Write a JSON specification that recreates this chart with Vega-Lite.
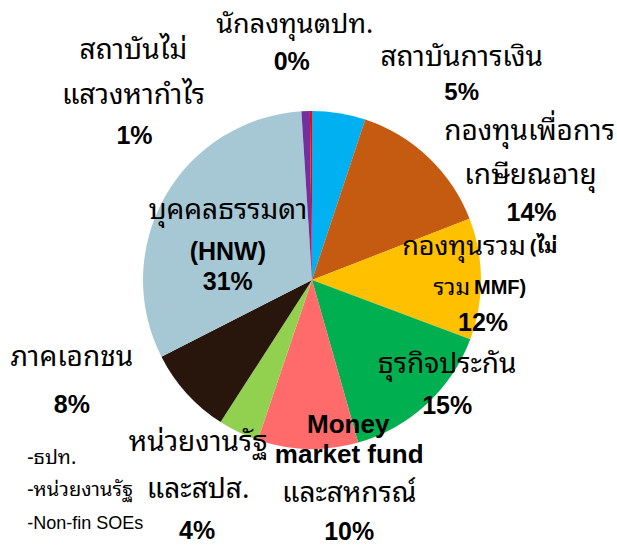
{
  "$schema": "https://vega.github.io/schema/vega-lite/v6.json",
  "width": 610,
  "height": 532,
  "autosize": "none",
  "padding": {"left": 7, "top": 14, "right": 0, "bottom": 0},
  "background": "white",
  "data": {"values": [
    {"cat": "สถาบันการเงิน", "order": 1, "value": 5.1, "l1": "สถาบันการเงิน", "pct": "5%"},
    {"cat": "กองทุนเพื่อการเกษียณอายุ", "order": 2, "value": 14.0, "l1": "กองทุนเพื่อการ", "l2": "เกษียณอายุ", "pct": "14%"},
    {"cat": "กองทุนรวม (ไม่รวม MMF)", "order": 3, "value": 11.6, "l1": "กองทุนรวม", "l1b": "(ไม่", "l2": "รวม", "l2b": "MMF)", "pct": "12%"},
    {"cat": "ธุรกิจประกัน", "order": 4, "value": 14.9, "l1": "ธุรกิจประกัน", "pct": "15%"},
    {"cat": "Money market fund และสหกรณ์", "order": 5, "value": 9.6, "l1": "Money", "l2": "market fund", "l3": "และสหกรณ์", "pct": "10%"},
    {"cat": "หน่วยงานรัฐและสปส.", "order": 6, "value": 3.9, "l1": "หน่วยงานรัฐ", "l2": "และสปส.", "pct": "4%", "n1": "-ธปท.", "n2": "-หน่วยงานรัฐ", "n3": "-Non-fin SOEs"},
    {"cat": "ภาคเอกชน", "order": 7, "value": 8.4, "l1": "ภาคเอกชน", "pct": "8%"},
    {"cat": "บุคคลธรรมดา (HNW)", "order": 8, "value": 31.5, "l1": "บุคคลธรรมดา", "l2": "(HNW)", "pct": "31%"},
    {"cat": "สถาบันไม่แสวงหากำไร", "order": 9, "value": 0.8, "l1": "สถาบันไม่", "l2": "แสวงหากำไร", "pct": "1%"},
    {"cat": "นักลงทุนตปท.", "order": 10, "value": 0.2, "l1": "นักลงทุนตปท.", "pct": "0%"}
  ]},
  "encoding": {
    "theta": {"field": "value", "type": "quantitative", "stack": true},
    "order": {"field": "order", "type": "quantitative", "sort": "ascending"}
  },
  "layer": [
    {"mark": {"type": "arc", "outerRadius": 169},
     "encoding": {"color": {"field": "cat", "type": "nominal", "legend": null,
       "scale": {"domain": ["สถาบันการเงิน", "กองทุนเพื่อการเกษียณอายุ", "กองทุนรวม (ไม่รวม MMF)", "ธุรกิจประกัน", "Money market fund และสหกรณ์", "หน่วยงานรัฐและสปส.", "ภาคเอกชน", "บุคคลธรรมดา (HNW)", "สถาบันไม่แสวงหากำไร", "นักลงทุนตปท."],
                 "range": ["#00B0F0", "#C55A11", "#FFC000", "#00B050", "#FF6B6B", "#92D050", "#28150B", "#A6C8D4", "#7030A0", "#FF0000"]}}}},

    {"mark": {"type": "text", "radius": 200, "dx": -16, "dy": -55, "fontSize": 27}, "encoding": {"text": {"condition": {"test": "datum.order===10", "field": "l1", "type": "nominal"}, "value": ""}}},
    {"mark": {"type": "text", "radius": 200, "dx": -19, "dy": -18, "fontWeight": "bold", "font": "Liberation Sans", "fontSize": 25}, "encoding": {"text": {"condition": {"test": "datum.order===10", "field": "pct", "type": "nominal"}, "value": ""}}},

    {"mark": {"type": "text", "radius": 230, "dx": 113, "dy": 5}, "encoding": {"text": {"condition": {"test": "datum.order===1", "field": "l1", "type": "nominal"}, "value": ""}}},
    {"mark": {"type": "text", "radius": 230, "dx": 113, "dy": 40, "fontWeight": "bold", "font": "Liberation Sans", "fontSize": 24}, "encoding": {"text": {"condition": {"test": "datum.order===1", "field": "pct", "type": "nominal"}, "value": ""}}},

    {"mark": {"type": "text", "radius": 230, "dx": 59, "dy": 19}, "encoding": {"text": {"condition": {"test": "datum.order===2", "field": "l1", "type": "nominal"}, "value": ""}}},
    {"mark": {"type": "text", "radius": 230, "dx": 60, "dy": 63}, "encoding": {"text": {"condition": {"test": "datum.order===2", "field": "l2", "type": "nominal"}, "value": ""}}},
    {"mark": {"type": "text", "radius": 230, "dx": 61, "dy": 100, "fontWeight": "bold", "font": "Liberation Sans", "fontSize": 25}, "encoding": {"text": {"condition": {"test": "datum.order===2", "field": "pct", "type": "nominal"}, "value": ""}}},

    {"mark": {"type": "text", "radius": 170, "dx": 44, "dy": -32, "align": "right", "fontSize": 27}, "encoding": {"text": {"condition": {"test": "datum.order===3", "field": "l1", "type": "nominal"}, "value": ""}}},
    {"mark": {"type": "text", "radius": 170, "dx": 48, "dy": -32, "align": "left", "fontSize": 20, "fontWeight": "bold"}, "encoding": {"text": {"condition": {"test": "datum.order===3", "field": "l1b", "type": "nominal"}, "value": ""}}},
    {"mark": {"type": "text", "radius": 170, "dx": -12, "dy": 9, "align": "right", "fontSize": 23}, "encoding": {"text": {"condition": {"test": "datum.order===3", "field": "l2", "type": "nominal"}, "value": ""}}},
    {"mark": {"type": "text", "radius": 170, "dx": -8, "dy": 9, "align": "left", "fontSize": 20, "fontWeight": "bold", "font": "Liberation Sans"}, "encoding": {"text": {"condition": {"test": "datum.order===3", "field": "l2b", "type": "nominal"}, "value": ""}}},
    {"mark": {"type": "text", "radius": 170, "dx": 1, "dy": 44, "fontWeight": "bold", "font": "Liberation Sans", "fontSize": 25}, "encoding": {"text": {"condition": {"test": "datum.order===3", "field": "pct", "type": "nominal"}, "value": ""}}},

    {"mark": {"type": "text", "radius": 170, "dx": 20, "dy": -40}, "encoding": {"text": {"condition": {"test": "datum.order===4", "field": "l1", "type": "nominal"}, "value": ""}}},
    {"mark": {"type": "text", "radius": 170, "dx": 20, "dy": 1, "fontWeight": "bold", "font": "Liberation Sans", "fontSize": 25}, "encoding": {"text": {"condition": {"test": "datum.order===4", "field": "pct", "type": "nominal"}, "value": ""}}},

    {"mark": {"type": "text", "radius": 190, "dx": 41, "dy": -45, "fontWeight": "bold", "font": "Liberation Sans", "fontSize": 26}, "encoding": {"text": {"condition": {"test": "datum.order===5", "field": "l1", "type": "nominal"}, "value": ""}}},
    {"mark": {"type": "text", "radius": 190, "dx": 42, "dy": -15, "fontWeight": "bold", "font": "Liberation Sans", "fontSize": 26}, "encoding": {"text": {"condition": {"test": "datum.order===5", "field": "l2", "type": "nominal"}, "value": ""}}},
    {"mark": {"type": "text", "radius": 190, "dx": 42, "dy": 24}, "encoding": {"text": {"condition": {"test": "datum.order===5", "field": "l3", "type": "nominal"}, "value": ""}}},
    {"mark": {"type": "text", "radius": 190, "dx": 42, "dy": 62, "fontWeight": "bold", "font": "Liberation Sans", "fontSize": 25}, "encoding": {"text": {"condition": {"test": "datum.order===5", "field": "pct", "type": "nominal"}, "value": ""}}},

    {"mark": {"type": "text", "radius": 200, "dx": -27, "dy": -17}, "encoding": {"text": {"condition": {"test": "datum.order===6", "field": "l1", "type": "nominal"}, "value": ""}}},
    {"mark": {"type": "text", "radius": 200, "dx": -27, "dy": 30}, "encoding": {"text": {"condition": {"test": "datum.order===6", "field": "l2", "type": "nominal"}, "value": ""}}},
    {"mark": {"type": "text", "radius": 200, "dx": -28, "dy": 71, "fontWeight": "bold", "font": "Liberation Sans", "fontSize": 25}, "encoding": {"text": {"condition": {"test": "datum.order===6", "field": "pct", "type": "nominal"}, "value": ""}}},
    {"mark": {"type": "text", "radius": 200, "dx": -198, "dy": -2, "align": "left", "fontSize": 20}, "encoding": {"text": {"condition": {"test": "datum.order===6", "field": "n1", "type": "nominal"}, "value": ""}}},
    {"mark": {"type": "text", "radius": 200, "dx": -198, "dy": 30, "align": "left", "fontSize": 20}, "encoding": {"text": {"condition": {"test": "datum.order===6", "field": "n2", "type": "nominal"}, "value": ""}}},
    {"mark": {"type": "text", "radius": 200, "dx": -198, "dy": 64, "align": "left", "fontSize": 18, "font": "Liberation Sans"}, "encoding": {"text": {"condition": {"test": "datum.order===6", "field": "n3", "type": "nominal"}, "value": ""}}},

    {"mark": {"type": "text", "radius": 220, "dx": -77, "dy": -70}, "encoding": {"text": {"condition": {"test": "datum.order===7", "field": "l1", "type": "nominal"}, "value": ""}}},
    {"mark": {"type": "text", "radius": 220, "dx": -77, "dy": -23, "fontWeight": "bold", "font": "Liberation Sans", "fontSize": 25}, "encoding": {"text": {"condition": {"test": "datum.order===7", "field": "pct", "type": "nominal"}, "value": ""}}},

    {"mark": {"type": "text", "radius": 90, "dx": -6, "dy": -24}, "encoding": {"text": {"condition": {"test": "datum.order===8", "field": "l1", "type": "nominal"}, "value": ""}}},
    {"mark": {"type": "text", "radius": 90, "dx": -6, "dy": 17, "fontWeight": "bold", "font": "Liberation Sans", "fontSize": 25}, "encoding": {"text": {"condition": {"test": "datum.order===8", "field": "l2", "type": "nominal"}, "value": ""}}},
    {"mark": {"type": "text", "radius": 90, "dx": -6, "dy": 47, "fontWeight": "bold", "font": "Liberation Sans", "fontSize": 25}, "encoding": {"text": {"condition": {"test": "datum.order===8", "field": "pct", "type": "nominal"}, "value": ""}}},

    {"mark": {"type": "text", "radius": 200, "dx": -171, "dy": -29}, "encoding": {"text": {"condition": {"test": "datum.order===9", "field": "l1", "type": "nominal"}, "value": ""}}},
    {"mark": {"type": "text", "radius": 200, "dx": -171, "dy": 16}, "encoding": {"text": {"condition": {"test": "datum.order===9", "field": "l2", "type": "nominal"}, "value": ""}}},
    {"mark": {"type": "text", "radius": 200, "dx": -170, "dy": 56, "fontWeight": "bold", "font": "Liberation Sans", "fontSize": 25}, "encoding": {"text": {"condition": {"test": "datum.order===9", "field": "pct", "type": "nominal"}, "value": ""}}}
  ],
  "config": {
    "view": {"stroke": null},
    "text": {"font": "Noto Sans Thai Looped, Noto Sans Thai, Noto Sans, DejaVu Sans, sans-serif", "fontSize": 28, "baseline": "middle", "align": "center", "color": "black"}
  }
}
